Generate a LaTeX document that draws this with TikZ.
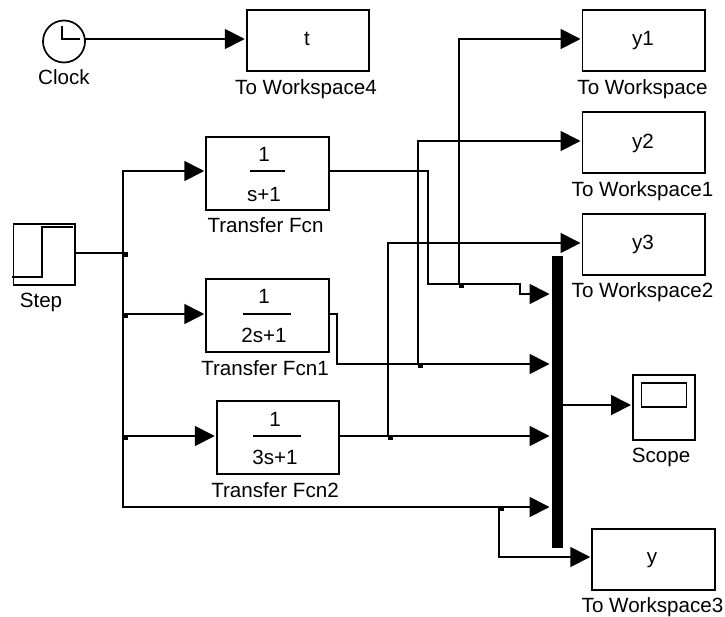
\documentclass[tikz,border=0pt]{standalone}
\usepackage{fontspec}
\setmainfont{Liberation Sans}
\usetikzlibrary{arrows.meta}
\tikzset{
  x=1pt,y=-1pt,
  blockbox/.style={draw=black,line width=1.7pt,fill=white,inner sep=0pt,outer sep=0pt,rectangle},
  wsbox/.style={blockbox,minimum width=122.5pt,minimum height=61pt},
  tfbox/.style={blockbox,minimum width=122.5pt,minimum height=73pt},
  txt/.style={anchor=base,inner sep=0pt,outer sep=0pt,font=\fontsize{20.6}{20.6}\selectfont},
  wire/.style={draw=black,line width=1.8pt,line join=miter},
  sig/.style={wire,-{Triangle[length=20pt,width=20pt]},shorten >=2pt},
  jdot/.style={fill=black,inner sep=0pt,outer sep=0pt,minimum size=5pt,rectangle,xshift=2pt,yshift=-1.5pt},
  thinline/.style={draw=black,line width=1.6pt}
}
\begin{document}
\begin{tikzpicture}
\useasboundingbox[fill=white] (0,0) rectangle (725,616);

% Clock
\node[circle,draw=black,line width=1.7pt,inner sep=0pt,outer sep=0pt,minimum size=42pt] (clock) at (64,41.5) {};
\draw[thinline] (62,26) -- (62,39) -- (80,39);
\node[txt] (clocklabel) at (64,84) {Clock};

% To Workspace blocks
\node[wsbox] (tw4) at (308,40.5) {};
\node[txt] (tw4t) at (307,45) {t};
\node[txt] (tw4l) at (306,94) {To Workspace4};
\node[wsbox] (y1) at (643.75,40.5) {};
\node[txt] (y1t) at (643,45) {y1};
\node[txt] (y1l) at (642.5,94) {To Workspace};
\node[wsbox] (y2) at (643.75,142.5) {};
\node[txt] (y2t) at (643,148) {y2};
\node[txt] (y2l) at (642.5,196) {To Workspace1};
\node[wsbox] (y3) at (643.75,244.5) {};
\node[txt] (y3t) at (643,249) {y3};
\node[txt] (y3l) at (642.5,297) {To Workspace2};
\node[wsbox] (yy) at (653.5,559.5) {};
\node[txt] (yyt) at (652,563) {y};
\node[txt] (yyl) at (652.5,612) {To Workspace3};

% Step
\node[blockbox,minimum width=61.5pt,minimum height=61pt] (step) at (44.25,254.5) {};
\draw[thinline] (12,277) -- (42,277) -- (42,227) -- (73,227);
\node[txt] (steplabel) at (41,307) {Step};

% Transfer functions
\node[tfbox] (tf0) at (267.5,173.5) {};
\node[txt] (tf0n) at (264,161) {1};
\node[txt] (tf0d) at (264,201) {s+1};
\draw[thinline] (249.5,171) -- (285,171);
\node[txt] (tf0l) at (265.5,232) {Transfer Fcn};

\node[tfbox] (tf1) at (267.5,315.5) {};
\node[txt] (tf1n) at (264,303) {1};
\node[txt] (tf1d) at (264,342) {2s+1};
\draw[thinline] (243,314) -- (291,314);
\node[txt] (tf1l) at (265,375) {Transfer Fcn1};

\node[tfbox] (tf2) at (278,437.5) {};
\node[txt] (tf2n) at (275,426) {1};
\node[txt] (tf2d) at (275,464) {3s+1};
\draw[thinline] (253,436) -- (301,436);
\node[txt] (tf2l) at (275,497) {Transfer Fcn2};

% Mux bar
\node[fill=black,inner sep=0pt,outer sep=0pt,minimum width=11.5pt,minimum height=292pt] (mux) at (557.25,402) {};

% Scope
\node[blockbox,minimum width=62pt,minimum height=65pt] (scope) at (664,407.5) {};
\node[draw=black,line width=1.7pt,inner sep=0pt,outer sep=0pt,minimum width=45pt,minimum height=24.5pt] (screen) at (664,395) {};
\node[txt] (scopelabel) at (661,462) {Scope};

% Junction points
\coordinate (jstep) at (123,253);
\coordinate (jt1) at (123,314);
\coordinate (jt2) at (123,436);
\coordinate (jtf0) at (459,284);
\coordinate (jtf1) at (418,364);
\coordinate (jtf2) at (388,436);
\coordinate (jbot) at (499,507);
\coordinate (corner) at (123,507);

% Connectors
\draw[sig] (clock.east |- 0,39) -- ([yshift=1.5pt]tw4.west);
\draw[wire] (step.east |- jstep) -- (jstep);
\draw[sig] (jstep) |- ([yshift=2.5pt]tf0.west);
\draw[sig] (jt1) -- ([yshift=1.5pt]tf1.west);
\draw[sig] (jt2) -- ([yshift=1.5pt]tf2.west);
\draw[wire] (jstep) -- (corner) -- (jbot);
\draw[sig] (jbot) -- (jbot -| mux.west);
\draw[sig] (jbot) |- ([yshift=2.5pt]yy.west);

\draw[wire] ([yshift=2.5pt]tf0.east) -- (428,171) -- (428,284) -- (jtf0);
\draw[sig] (jtf0) -- (520,284) -- (520,294) -- (mux.west |- 0,294);
\draw[sig] (jtf0) |- ([yshift=1.5pt]y1.west);

\draw[wire] ([yshift=1.5pt]tf1.east) -- (337,314) |- (jtf1);
\draw[sig] (jtf1) -- (jtf1 -| mux.west);
\draw[sig] (jtf1) |- ([yshift=1.5pt]y2.west);

\draw[wire] ([yshift=1.5pt]tf2.east) -- (jtf2);
\draw[sig] (jtf2) -- (jtf2 -| mux.west);
\draw[sig] (jtf2) |- ([yshift=1.5pt]y3.west);

\draw[sig] (mux.east |- 0,405) -- ([yshift=2.5pt]scope.west);

% Junction dots
\foreach \j in {jstep,jt1,jt2,jtf0,jtf1,jtf2,jbot} \node[jdot] at (\j) {};
\end{tikzpicture}
\end{document}
